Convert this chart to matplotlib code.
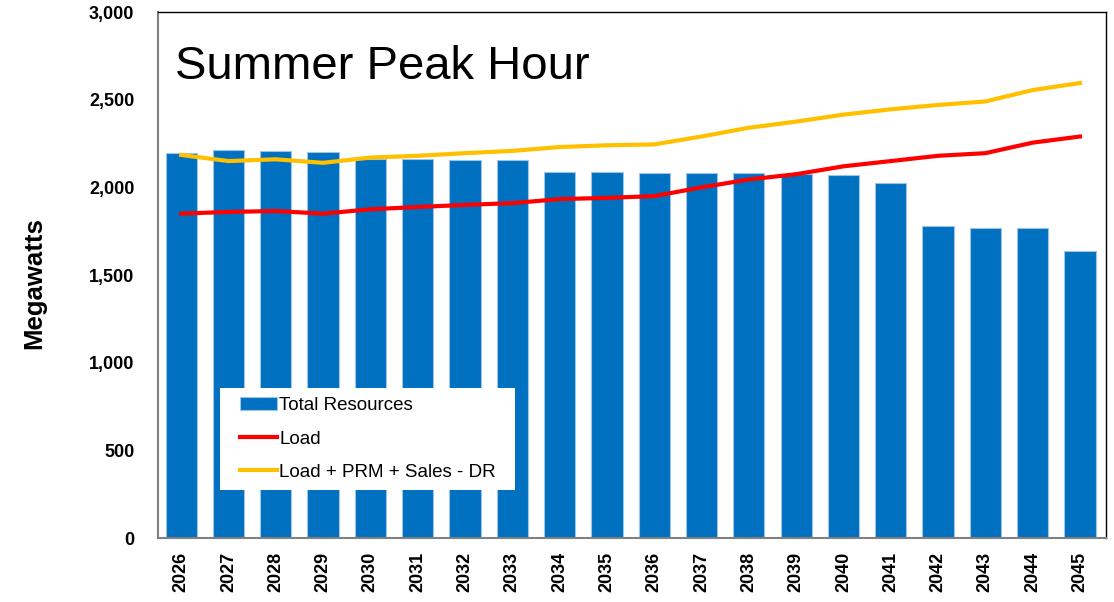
import numpy as np
import matplotlib.pyplot as plt
from matplotlib.patches import Rectangle
from matplotlib.ticker import FuncFormatter

plt.rcParams['font.family'] = ['Liberation Sans', 'DejaVu Sans']

# Data (MW)
years = [str(y) for y in range(2026, 2046)]
total_resources = [2195, 2215, 2210, 2200, 2160, 2160, 2155, 2155, 2085, 2085,
                   2080, 2080, 2080, 2075, 2070, 2025, 1780, 1770, 1768, 1637]
load = [1850, 1860, 1865, 1850, 1875, 1888, 1900, 1910, 1933, 1940,
        1950, 2000, 2045, 2075, 2120, 2150, 2180, 2195, 2255, 2290]
load_prm = [2185, 2150, 2160, 2140, 2170, 2180, 2195, 2208, 2230, 2240,
            2245, 2290, 2340, 2375, 2415, 2445, 2470, 2490, 2555, 2595]

BLUE = '#0070C0'
RED = '#FF0000'
GOLD = '#FFC000'

fig = plt.figure(figsize=(11.14, 6.02), dpi=100)
ax = fig.add_axes([0.1418, 0.1063, 0.851, 0.8737])

x = np.arange(len(years))
bars = ax.bar(x, total_resources, width=0.66, color=BLUE, edgecolor='#9DC3E6',
              linewidth=0.8, label='Total Resources', zorder=2)
l1, = ax.plot(x, load, color=RED, lw=3, label='Load', zorder=3)
l2, = ax.plot(x, load_prm, color=GOLD, lw=3, label='Load + PRM + Sales - DR', zorder=3)

ax.set_xlim(-0.49, len(years) - 0.45)
ax.set_ylim(0, 3000)
ax.set_yticks(range(0, 3001, 500))
ax.yaxis.set_major_formatter(FuncFormatter(lambda v, p: f'{int(v):,}'))
ax.set_xticks(x)
ax.set_xticklabels(years, rotation=90)
ax.tick_params(length=0, labelsize=13)
for lab in ax.get_xticklabels() + ax.get_yticklabels():
    lab.set_fontweight('bold')
ax.tick_params(axis='y', pad=17)
ax.tick_params(axis='x', pad=10)

ax.set_ylabel('Megawatts', fontsize=18.5, fontweight='bold', va='center')
ax.yaxis.set_label_coords(-0.130, 0.484)

for s in ['left', 'bottom']:
    ax.spines[s].set_color('#808080')
    ax.spines[s].set_linewidth(1.5)
for s in ['top', 'right']:
    ax.spines[s].set_color('black')
    ax.spines[s].set_linewidth(1)

ax.text(0.018, 0.895, 'Summer Peak Hour', transform=ax.transAxes,
        fontsize=34, va='center', ha='left')

# white legend panel
ax.add_patch(Rectangle((0.0654, 0.0913), 0.311, 0.194, transform=ax.transAxes,
                       facecolor='white', edgecolor='none', zorder=4))
leg = ax.legend([bars, l1, l2], ['Total Resources', 'Load', 'Load + PRM + Sales - DR'],
                loc='center left', bbox_to_anchor=(0.0865, 0.188),
                borderaxespad=0, borderpad=0, frameon=False, fontsize=13.5,
                handlelength=1.95, handletextpad=0.15, labelspacing=0.86)
leg.set_zorder(5)

fig.savefig('out.png', dpi=100)
